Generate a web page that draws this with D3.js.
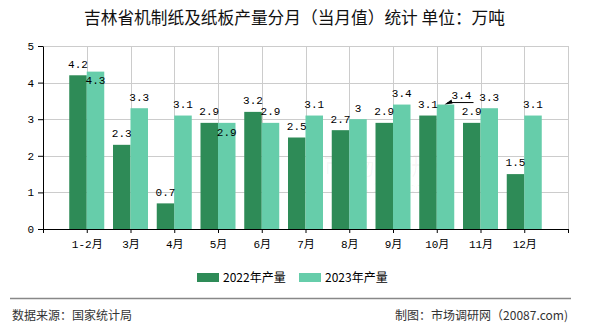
<!DOCTYPE html>
<html><head><meta charset="utf-8">
<script src="https://cdn.jsdelivr.net/npm/d3@7"></script>
<style>
html,body{margin:0;padding:0;background:#fff;}
svg{display:block;}
</style></head>
<body>
<svg id="chart" width="590" height="330"></svg>
<script>
const categories = ["1-2月","3月","4月","5月","6月","7月","8月","9月","10月","11月","12月"];
const values2022 = [4.2, 2.3, 0.7, 2.9, 3.2, 2.5, 2.7, 2.9, 3.1, 2.9, 1.5];
const values2023 = [4.3, 3.3, 3.1, 2.9, 2.9, 3.1, 3.0, 3.4, 3.4, 3.3, 3.1];
const seriesNames = ["2022年产量", "2023年产量"];
const yTicks = [0, 1, 2, 3, 4, 5];
// label placement overrides (keyed by series index and category index)
const labelPlacement = {"1-0": "inside", "1-3": "inside", "1-8": "leader"};

const colors = ["#2E8B57", "#66CDAA"];
const svg = d3.select("#chart");
const plotL = 43, plotR = 568, plotT = 46, plotB = 229;

const x = d3.scaleLinear().domain([0, categories.length + 1]).range([plotL, plotR]);
const y = d3.scaleLinear().domain([0, 5]).range([plotB, plotT]);
const step = x(1) - x(0);
const bw = step * 0.4;

// title
svg.append("text").attr("x", 294.5).attr("y", 24).attr("text-anchor", "middle")
  .attr("font-family", "'Noto Sans CJK SC', sans-serif").attr("font-size", 16.7)
  .attr("fill", "#111").text("吉林省机制纸及纸板产量分月（当月值）统计 单位：万吨");

// watermark
svg.append("text").attr("x", 388).attr("y", 175).attr("text-anchor", "middle")
  .attr("font-family", "'Noto Sans CJK SC', sans-serif").attr("font-size", 26)
  .attr("fill", "rgba(0,0,0,0.035)").text("市场调研网");
svg.append("text").attr("x", 388).attr("y", 192).attr("text-anchor", "middle")
  .attr("font-family", "'Liberation Sans', sans-serif").attr("font-size", 12)
  .attr("fill", "rgba(0,0,0,0.035)").text("www.20087.com");

// grid
const grid = svg.append("g").attr("stroke", "#cccccc").attr("stroke-width", 1);
yTicks.filter(d => d > 0).forEach(t => {
  grid.append("line").attr("x1", plotL).attr("x2", plotR)
    .attr("y1", Math.round(y(t)) + 0.5).attr("y2", Math.round(y(t)) + 0.5);
});
d3.range(1, categories.length + 2).forEach(i => {
  grid.append("line").attr("x1", Math.round(x(i)) + 0.5).attr("x2", Math.round(x(i)) + 0.5)
    .attr("y1", plotT).attr("y2", plotB);
});

// bars
const series = [values2022, values2023];
series.forEach((vals, s) => {
  svg.append("g").selectAll("rect").data(vals).join("rect")
    .attr("x", (d, i) => s === 0 ? x(i + 1) - bw : x(i + 1))
    .attr("width", bw)
    .attr("y", d => y(d))
    .attr("height", d => y(0) - y(d))
    .attr("fill", colors[s]);
});

// axes
const xAxis = d3.axisBottom(x).tickValues(d3.range(0, categories.length + 2))
  .tickFormat(i => (i >= 1 && i <= categories.length) ? categories[i - 1] : "")
  .tickSize(4).tickSizeOuter(0);
const gx = svg.append("g").attr("transform", `translate(0,${plotB})`).call(xAxis);
gx.selectAll("text").attr("font-family", "'Liberation Mono','Noto Sans CJK SC', monospace")
  .attr("font-size", 11).attr("fill", "#000").attr("dy", "1.1em");
gx.selectAll("line,path").attr("stroke", "#000");

const yAxis = d3.axisLeft(y).tickValues(yTicks).tickFormat(d3.format("d")).tickSize(5).tickSizeOuter(0);
const gy = svg.append("g").attr("transform", `translate(${plotL},0)`).call(yAxis);
gy.selectAll("text").attr("font-family", "'Liberation Mono', monospace")
  .attr("font-size", 11).attr("fill", "#000").attr("x", -9);
gy.selectAll("line,path").attr("stroke", "#000");

// data labels
const lab = svg.append("g").attr("font-family", "'Liberation Mono', monospace")
  .attr("font-size", 11).attr("fill", "#000").attr("text-anchor", "middle");
series.forEach((vals, s) => {
  vals.forEach((v, i) => {
    const cx = s === 0 ? x(i + 1) - bw / 2 : x(i + 1) + bw / 2;
    const mode = labelPlacement[s + "-" + i] || "above";
    let ly = y(v) - 11.5, lx = cx;
    if (mode === "inside") ly = y(v) + 9;
    if (mode === "leader") {
      lx = cx + 16; ly = y(v) - 9;
      svg.append("line").attr("x1", cx + 2).attr("y1", y(v) - 2)
        .attr("x2", lx + 12).attr("y2", y(v) - 2).attr("stroke", "#000").attr("stroke-width", 1);
      svg.append("path").attr("d", `M${cx - 1},${y(v)} L${cx + 6},${y(v) - 5} L${cx + 7},${y(v) - 1} Z`).attr("fill", "#000");
    }
    lab.append("text").attr("x", lx).attr("y", ly).attr("dy", "0.35em").text(v % 1 === 0 ? v.toFixed(0) : v.toFixed(1));
  });
});

// legend
const legendX = [197, 299];
seriesNames.forEach((n, s) => {
  svg.append("rect").attr("x", legendX[s]).attr("y", 273).attr("width", 22).attr("height", 9).attr("fill", colors[s]);
  svg.append("text").attr("x", legendX[s] + 26).attr("y", 277.5).attr("dy", "0.35em")
    .attr("font-family", "'Noto Sans CJK SC', sans-serif").attr("font-size", 12).attr("fill", "#000").text(n);
});

// footer
svg.append("line").attr("x1", 10).attr("x2", 571).attr("y1", 298.5).attr("y2", 298.5)
  .attr("stroke", "#888").attr("stroke-width", 1.5);
svg.append("text").attr("x", 12).attr("y", 316).attr("dy", "0.35em")
  .attr("font-family", "'Noto Sans CJK SC', sans-serif").attr("font-size", 12).attr("fill", "#333")
  .text("数据来源：国家统计局");
svg.append("text").attr("x", 568).attr("y", 316).attr("dy", "0.35em").attr("text-anchor", "end")
  .attr("font-family", "'Noto Sans CJK SC', sans-serif").attr("font-size", 12).attr("fill", "#333")
  .text("制图：市场调研网（20087.com)");
</script>
</body></html>
